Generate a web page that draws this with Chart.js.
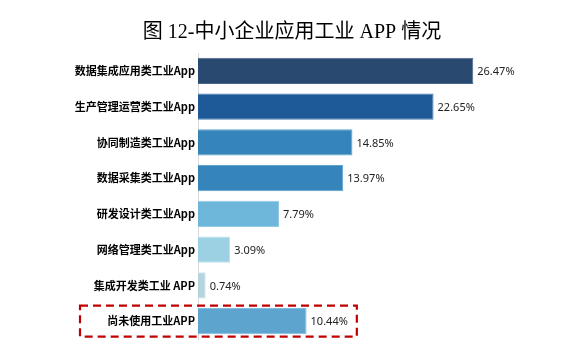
<!DOCTYPE html>
<html>
<head>
<meta charset="utf-8">
<script src="https://cdn.jsdelivr.net/npm/chart.js@4"></script>
<style>
  html, body { margin: 0; padding: 0; background: #fff; }
  #wrap { width: 584px; height: 359px; }
</style>
</head>
<body>
<div id="wrap"><canvas id="chart" width="584" height="359"></canvas></div>
<script>
// categories and shares
const categories = [
    '数据集成应用类工业App',
    '生产管理运营类工业App',
    '协同制造类工业App',
    '数据采集类工业App',
    '研发设计类工业App',
    '网络管理类工业App',
    '集成开发类工业 APP',
    '尚未使用工业APP'
];
const shares = [26.47, 22.65, 14.85, 13.97, 7.79, 3.09, 0.74, 10.44];
const barColors = ['#2A4971', '#1F5A98', '#3584BA', '#3584BA', '#6EB7DA', '#9CD0E3', '#B6D4DE', '#5DA5CF'];
const edgeColors = ['#4A6790', '#4A7DB5', '#5EA2CF', '#5EA2CF', '#93CBE6', '#BCE0EE', '#D0E4EA', '#84BDDF'];
const highlightIndex = 7;
const titleText = '图 12-中小企业应用工业 APP 情况';

// title centred on the whole canvas, not the plot area
const pageTitle = {
    id: 'pageTitle',
    afterDraw(chart) {
        const ctx = chart.ctx;
        ctx.save();
        ctx.font = '20px "Liberation Serif", "Noto Sans CJK SC", serif';
        ctx.fillStyle = '#000';
        ctx.textAlign = 'center';
        ctx.textBaseline = 'middle';
        ctx.fillText(titleText, chart.width / 2, 33);
        ctx.restore();
    }
};

const valueLabels = {
    id: 'valueLabels',
    afterDatasetsDraw(chart) {
        const ctx = chart.ctx;
        const meta = chart.getDatasetMeta(0);
        ctx.save();
        ctx.font = '11px "Noto Sans", "Open Sans", sans-serif';
        ctx.fillStyle = '#222';
        ctx.textBaseline = 'middle';
        ctx.textAlign = 'left';
        meta.data.forEach(function (bar, i) {
            ctx.fillText(shares[i].toFixed(2) + '%', bar.x + 4, bar.y + 1);
        });
        ctx.restore();
    }
};

// red dashed box round the "not used" row
const highlightBox = {
    id: 'highlightBox',
    afterDraw(chart) {
        const ctx = chart.ctx;
        const y = chart.scales.y.getPixelForValue(highlightIndex);
        const bar = chart.getDatasetMeta(0).data[highlightIndex];
        ctx.save();
        ctx.font = '11px "Noto Sans", "Open Sans", sans-serif';
        const right = bar.x + 4 + ctx.measureText(shares[highlightIndex].toFixed(2) + '%').width + 9;
        const left = chart.chartArea.left - 118;
        ctx.strokeStyle = '#C00000';
        ctx.lineWidth = 2.2;
        ctx.setLineDash([8, 5]);
        ctx.strokeRect(left, y - 15.5, right - left, 31);
        ctx.restore();
    }
};

new Chart(document.getElementById('chart').getContext('2d'), {
    type: 'bar',
    data: {
        labels: categories,
        datasets: [{
            data: shares,
            backgroundColor: barColors,
            borderColor: edgeColors,
            borderWidth: 1,
            borderSkipped: 'left',
            barPercentage: 0.73,
            categoryPercentage: 1.0
        }]
    },
    options: {
        indexAxis: 'y',
        responsive: false,
        animation: false,
        layout: { padding: { left: 0, right: 74, top: 53, bottom: 20 } },
        plugins: {
            legend: { display: false },
            tooltip: { enabled: false },
            title: { display: false }
        },
        scales: {
            x: { display: false, min: 0, max: 30 },
            y: {
                afterFit(scale) { scale.width = 198; },
                grid: { display: false, drawTicks: false, tickLength: 0 },
                border: { display: true, color: '#D9D9D9', width: 1 },
                ticks: {
                    color: '#000',
                    padding: 3,
                    font: { family: '"Noto Sans CJK SC", sans-serif', size: 11, weight: 'bold' }
                }
            }
        }
    },
    plugins: [pageTitle, valueLabels, highlightBox]
});
</script>
</body>
</html>
